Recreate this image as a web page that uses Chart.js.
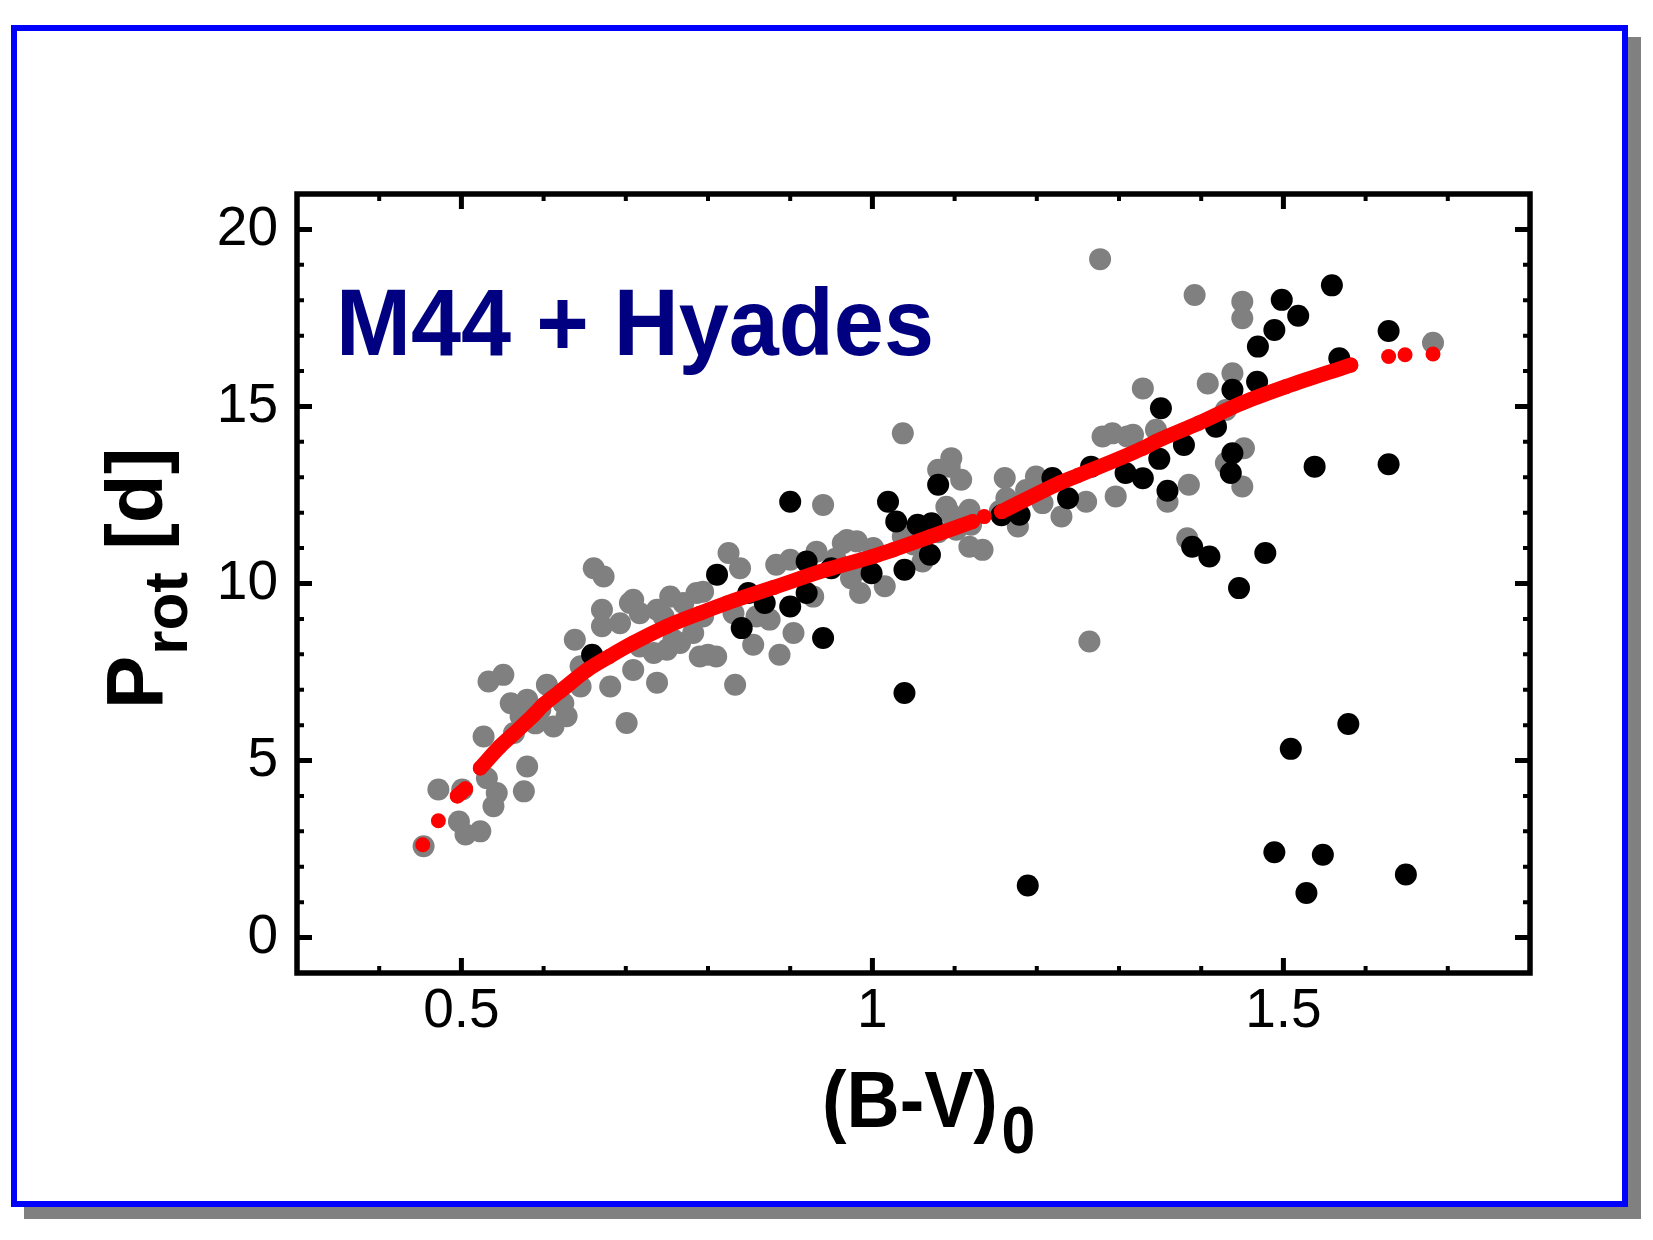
<!DOCTYPE html>
<html>
<head>
<meta charset="utf-8">
<script src="https://cdn.jsdelivr.net/npm/chart.js@4.4.1/dist/chart.umd.min.js"></script>
<style>
html, body { margin:0; padding:0; background:#fff; }
body { width:1653px; height:1240px; position:relative; overflow:hidden; }
#frame { position:absolute; left:11px; top:25px; width:1605px; height:1170px; border:6px solid #0000ff; background:#fff; box-shadow:13px 12px 0 0 #808080; }
#plot { position:absolute; left:0; top:0; }
</style>
</head>
<body>
<div id="frame"></div>
<canvas id="plot" width="1653" height="1240"></canvas>
<script>
// gray sample
const grayBV = [0.454,0.472,0.501,0.497,0.505,0.523,0.527,0.531,0.543,0.539,0.576,0.580,0.533,0.551,0.560,0.580,0.604,0.572,0.564,0.612,
  0.628,0.624,0.596,0.590,0.638,0.645,0.645,0.661,0.673,0.671,0.671,0.681,0.701,0.709,0.705,0.693,0.717,0.738,0.754,0.770,
  0.786,0.709,0.717,0.734,0.750,0.766,0.782,0.790,0.738,0.758,0.746,0.794,0.794,0.800,0.810,0.825,0.839,0.833,0.855,0.831,
  0.859,0.875,0.887,0.904,0.883,0.900,0.928,0.932,0.940,0.964,0.981,1.001,0.974,0.985,1.015,1.037,1.061,1.090,1.108,1.094,
  1.118,1.134,1.120,1.102,1.277,1.037,1.096,1.080,1.161,1.199,1.187,1.260,1.280,1.292,1.296,1.155,1.177,1.096,1.118,0.969,
  1.329,1.408,1.163,1.207,1.230,1.317,1.345,1.359,1.385,1.383,1.452,1.430,1.450,1.264,1.430,1.392,1.450,1.450,1.682,1.438,
  1.310,0.955,0.990,1.050,1.080];
const grayProt = [2.58,4.18,4.18,3.28,2.91,3.00,5.68,4.50,4.08,3.71,4.13,4.83,7.23,7.42,6.62,6.72,7.14,6.25,5.78,5.96,
  6.25,6.62,6.44,6.05,8.41,7.66,7.09,10.43,10.20,9.26,8.79,7.09,6.06,7.56,9.45,8.88,9.16,9.26,9.63,9.45,
  9.73,9.54,8.22,8.04,8.13,8.32,8.60,7.94,7.20,8.41,9.07,9.77,9.07,7.99,7.94,10.86,10.43,7.14,8.27,9.16,
  9.07,8.98,7.99,8.60,10.53,10.67,9.63,10.90,12.22,11.14,11.19,11.00,10.15,9.73,9.92,11.33,10.62,12.17,12.93,13.30,
  11.04,10.95,11.66,11.52,19.16,14.24,13.54,13.21,12.98,13.02,12.64,12.31,14.15,14.24,12.46,12.05,11.61,11.94,12.08,11.23,
  15.51,15.65,12.41,12.27,11.89,14.20,14.34,12.31,12.79,11.28,13.82,13.40,12.74,8.36,14.90,18.15,17.96,17.49,16.80,15.94,
  14.15,10.70,10.60,11.10,11.45];

// black sample
const blackBV = [0.659,0.900,0.811,0.849,0.841,0.869,0.900,0.920,0.920,0.950,0.940,0.999,1.019,1.029,1.039,1.055,1.072,1.070,1.080,1.039,
  1.189,1.157,1.179,1.219,1.238,1.266,1.308,1.329,1.349,1.379,1.359,1.418,1.438,1.436,1.351,1.438,1.468,1.389,1.410,1.478,
  1.446,1.559,1.498,1.518,1.489,1.469,1.628,1.568,1.538,1.628,1.579,1.509,1.489,1.548,1.528,1.649];
const blackProt = [7.99,12.31,10.25,9.73,8.74,9.45,9.35,10.62,9.73,10.43,8.46,10.29,12.31,11.75,10.39,11.66,11.70,10.81,12.79,6.91,
  1.47,11.93,11.94,12.98,12.41,13.30,13.12,12.97,13.52,13.91,12.62,14.43,13.68,13.12,14.95,15.47,15.70,11.04,10.76,10.86,
  9.87,18.42,18.01,17.56,17.16,16.69,17.13,16.36,13.30,13.37,6.03,5.33,2.41,2.34,1.26,1.78];

// red relation (null = break in the curve)
const fitBV = [0.453,0.462,0.472,0.483,0.495,0.500,0.505,0.514,0.523,0.547,0.560,0.588,0.600,0.620,0.653,0.680,0.709,0.750,0.790,0.823,
  0.880,0.944,1.000,1.025,1.070,1.122,1.129,1.136,1.146,1.157,1.227,1.250,1.329,1.345,1.397,1.450,1.503,1.582,1.605,1.628,
  1.638,1.648,1.665,1.682];
const fitProt = [2.62,null,3.30,null,4.00,4.10,4.20,null,4.79,5.40,5.68,6.29,6.58,6.95,7.56,7.94,8.32,8.79,9.16,9.45,
  9.89,10.39,10.76,10.95,11.32,11.75,null,11.89,null,12.03,12.83,13.05,13.82,14.01,14.53,15.10,15.56,16.17,null,16.41,
  null,16.46,null,16.48];

const xTicks = [0.5, 1, 1.5];
const yTicks = [0, 5, 10, 15, 20];

const FONT = '"Liberation Sans", Arial, Helvetica, sans-serif';
const toPoints = (xs, ys) => xs.map((x, i) => ({ x: x, y: ys[i] }));

// box, inward ticks on all four sides, and the labels with subscripts
const framePlugin = {
  id: 'frame',
  afterDraw(chart) {
    const { ctx, chartArea: a, scales } = chart;
    const sx = scales.x, sy = scales.y;
    ctx.save();
    ctx.strokeStyle = '#000';
    ctx.lineCap = 'butt';
    for (let i = 4; i <= 17; i++) {
      const px = sx.getPixelForValue(i / 10);
      const major = i % 5 === 0;
      const len = major ? 15 : 7;
      ctx.lineWidth = major ? 5 : 4;
      ctx.beginPath();
      ctx.moveTo(px, a.bottom); ctx.lineTo(px, a.bottom - len);
      ctx.moveTo(px, a.top); ctx.lineTo(px, a.top + len);
      ctx.stroke();
    }
    for (let i = 0; i <= 20; i++) {
      const py = sy.getPixelForValue(i);
      const major = i % 5 === 0;
      const len = major ? 15 : 7;
      ctx.lineWidth = major ? 5 : 4;
      ctx.beginPath();
      ctx.moveTo(a.left, py); ctx.lineTo(a.left + len, py);
      ctx.moveTo(a.right, py); ctx.lineTo(a.right - len, py);
      ctx.stroke();
    }
    ctx.lineWidth = 5.5;
    ctx.strokeRect(a.left, a.top, a.right - a.left, a.bottom - a.top);

    ctx.textBaseline = 'alphabetic';
    ctx.textAlign = 'left';

    // cluster label
    const label = 'M44 + Hyades';
    ctx.fillStyle = '#000080';
    ctx.font = 'bold 95px ' + FONT;
    let w = ctx.measureText(label).width;
    ctx.save();
    ctx.translate(336, 355);
    ctx.scale(598 / w, 1);
    ctx.fillText(label, 0, 0);
    ctx.restore();

    // x title (B-V)0
    ctx.fillStyle = '#000';
    ctx.save();
    ctx.translate(822, 1127);
    ctx.scale(0.92, 1);
    ctx.font = 'bold 80px ' + FONT;
    ctx.fillText('(B-V)', 0, 0);
    w = ctx.measureText('(B-V)').width;
    ctx.font = 'bold 66px ' + FONT;
    ctx.fillText('0', w + 4, 26);
    ctx.restore();

    // y title Prot [d]
    ctx.save();
    ctx.translate(162, 709);
    ctx.rotate(-Math.PI / 2);
    ctx.font = 'bold 80px ' + FONT;
    ctx.fillText('P', 0, 0);
    let off = ctx.measureText('P').width + 1;
    ctx.font = 'bold 62px ' + FONT;
    ctx.fillText('rot', off, 25);
    off += ctx.measureText('rot').width;
    ctx.font = 'bold 80px ' + FONT;
    ctx.fillText(' [d]', off, 0);
    ctx.restore();

    ctx.restore();
  }
};

new Chart(document.getElementById('plot'), {
  type: 'scatter',
  data: {
    datasets: [
      {
        label: 'relation',
        data: toPoints(fitBV, fitProt),
        showLine: true,
        spanGaps: false,
        cubicInterpolationMode: 'monotone',
        borderColor: '#ff0000',
        backgroundColor: '#ff0000',
        borderWidth: 15,
        borderCapStyle: 'round',
        borderJoinStyle: 'round',
        pointRadius: 7.5,
        pointBorderWidth: 0,
        order: 1
      },
      {
        label: 'black',
        data: toPoints(blackBV, blackProt),
        backgroundColor: '#000000',
        pointRadius: 11,
        pointBorderWidth: 0,
        order: 2
      },
      {
        label: 'gray',
        data: toPoints(grayBV, grayProt),
        backgroundColor: '#808080',
        pointRadius: 11,
        pointBorderWidth: 0,
        order: 3
      }
    ]
  },
  options: {
    responsive: false,
    animation: false,
    devicePixelRatio: 1,
    layout: { padding: { left: 147, right: 123, top: 194, bottom: 167 } },
    plugins: { legend: { display: false }, tooltip: { enabled: false } },
    scales: {
      x: {
        type: 'linear',
        min: 0.3,
        max: 1.8,
        afterBuildTicks: s => { s.ticks = xTicks.map(v => ({ value: v })); },
        afterFit: s => { s.height = 100; },
        grid: { display: false, drawTicks: false },
        border: { display: false },
        ticks: {
          autoSkip: false,
          maxRotation: 0,
          padding: 6,
          color: '#000',
          font: { family: FONT, size: 55 },
          callback: v => String(v)
        }
      },
      y: {
        type: 'linear',
        min: -1,
        max: 21,
        afterBuildTicks: s => { s.ticks = yTicks.map(v => ({ value: v })); },
        afterFit: s => { s.width = 150; },
        grid: { display: false, drawTicks: false },
        border: { display: false },
        ticks: {
          autoSkip: false,
          padding: 19,
          color: '#000',
          font: { family: FONT, size: 55 },
          callback: v => String(v)
        }
      }
    }
  },
  plugins: [framePlugin]
});
</script>
</body>
</html>
